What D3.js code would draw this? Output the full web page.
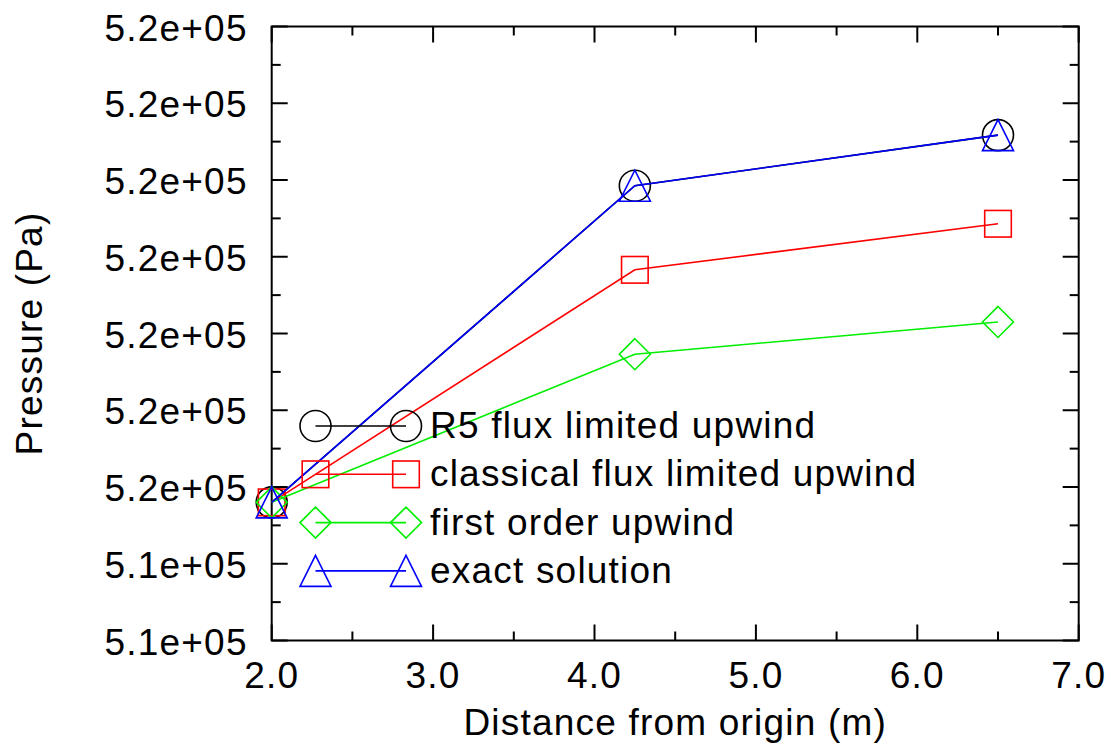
<!DOCTYPE html>
<html>
<head>
<meta charset="utf-8">
<script src="https://cdn.jsdelivr.net/npm/d3@7"></script>
<style>
  body { margin: 0; background: #fff; }
  text { font-family: "Liberation Sans", Arial, sans-serif; font-size: 37px; letter-spacing: 1.2px; fill: #000; }
</style>
</head>
<body>
<div id="chart"></div>
<script>
/* DATA */
const distance = [2.0, 4.25, 6.5];
const r5Upwind = [515006, 515088.5, 515101.7];
const classicalUpwind = [515006, 515066.6, 515078.6];
const firstOrderUpwind = [515006, 515044.6, 515053.0];
const exactSolution = [515006, 515088.5, 515101.7];
const seriesNames = ["R5 flux limited upwind", "classical flux limited upwind", "first order upwind", "exact solution"];
const xTicks = [2, 3, 4, 5, 6, 7];
const yTicks = [514970, 514990, 515010, 515030, 515050, 515070, 515090, 515110, 515130];

/* LAYOUT */
const W = 1111, H = 745;
const plotLeft = 271.7, plotRight = 1078.7, plotTop = 26.5, plotBottom = 640.5;

const svg = d3.select("#chart").append("svg")
  .attr("width", W)
  .attr("height", H);

const x = d3.scaleLinear().domain([2, 7]).range([plotLeft, plotRight]);
const y = d3.scaleLinear().domain([514970, 515130]).range([plotBottom, plotTop]);

// labels like 5.2e+05
function fmtExp(v) {
  return v.toExponential(1).replace(/e([+-])(\d)$/, "e$10$2");
}

// frame
svg.append("rect")
  .attr("x", plotLeft).attr("y", plotTop)
  .attr("width", plotRight - plotLeft).attr("height", plotBottom - plotTop)
  .attr("fill", "none").attr("stroke", "#000").attr("stroke-width", 2);

// ticks (inward, on all four sides)
const ticks = svg.append("g").attr("stroke", "#000").attr("stroke-width", 2);
const xMinor = d3.range(2.5, 7, 1);
const yMinor = d3.range(514980, 515130, 20);

xTicks.forEach((t) => {
  ticks.append("line").attr("x1", x(t)).attr("x2", x(t)).attr("y1", plotBottom).attr("y2", plotBottom - 16);
  ticks.append("line").attr("x1", x(t)).attr("x2", x(t)).attr("y1", plotTop).attr("y2", plotTop + 16);
});
xMinor.forEach((t) => {
  ticks.append("line").attr("x1", x(t)).attr("x2", x(t)).attr("y1", plotBottom).attr("y2", plotBottom - 9);
  ticks.append("line").attr("x1", x(t)).attr("x2", x(t)).attr("y1", plotTop).attr("y2", plotTop + 9);
});
yTicks.forEach((t) => {
  ticks.append("line").attr("y1", y(t)).attr("y2", y(t)).attr("x1", plotLeft).attr("x2", plotLeft + 16);
  ticks.append("line").attr("y1", y(t)).attr("y2", y(t)).attr("x1", plotRight).attr("x2", plotRight - 16);
});
yMinor.forEach((t) => {
  ticks.append("line").attr("y1", y(t)).attr("y2", y(t)).attr("x1", plotLeft).attr("x2", plotLeft + 9);
  ticks.append("line").attr("y1", y(t)).attr("y2", y(t)).attr("x1", plotRight).attr("x2", plotRight - 9);
});

// tick labels
svg.append("g").selectAll("text")
  .data(xTicks)
  .enter()
  .append("text")
  .attr("x", (d) => x(d))
  .attr("y", plotBottom + 47)
  .attr("text-anchor", "middle")
  .text((d) => d.toFixed(1));

svg.append("g").selectAll("text")
  .data(yTicks)
  .enter()
  .append("text")
  .attr("x", plotLeft - 24)
  .attr("y", (d) => y(d) + 14)
  .attr("text-anchor", "end")
  .text((d) => fmtExp(d));

// axis titles
svg.append("text")
  .attr("x", (plotLeft + plotRight) / 2)
  .attr("y", 735)
  .attr("text-anchor", "middle")
  .text("Distance from origin (m)");

svg.append("text")
  .attr("transform", `translate(42, ${(plotTop + plotBottom) / 2}) rotate(-90)`)
  .attr("text-anchor", "middle")
  .text("Pressure (Pa)");

/* MARKERS */
function drawMarker(g, shape, cx, cy, color) {
  if (shape === "circle") {
    g.append("circle").attr("cx", cx).attr("cy", cy).attr("r", 15.5)
      .attr("fill", "none").attr("stroke", color).attr("stroke-width", 1.6);
  } else if (shape === "square") {
    g.append("rect").attr("x", cx - 13.3).attr("y", cy - 13.3).attr("width", 26.6).attr("height", 26.6)
      .attr("fill", "none").attr("stroke", color).attr("stroke-width", 1.6);
  } else if (shape === "diamond") {
    const s = 15.5;
    g.append("path").attr("d", `M${cx},${cy - s}L${cx + s},${cy}L${cx},${cy + s}L${cx - s},${cy}Z`)
      .attr("fill", "none").attr("stroke", color).attr("stroke-width", 1.6);
  } else {
    const s = 15.5;
    g.append("path").attr("d", `M${cx},${cy - s}L${cx + s},${cy + s}L${cx - s},${cy + s}Z`)
      .attr("fill", "none").attr("stroke", color).attr("stroke-width", 1.6);
  }
}

const series = [
  { name: seriesNames[0], values: r5Upwind, color: "#000000", shape: "circle" },
  { name: seriesNames[1], values: classicalUpwind, color: "#ff0000", shape: "square" },
  { name: seriesNames[2], values: firstOrderUpwind, color: "#00ee00", shape: "diamond" },
  { name: seriesNames[3], values: exactSolution, color: "#0000ff", shape: "triangle" },
];

const line = d3.line()
  .x((d) => x(d[0]))
  .y((d) => y(d[1]));

series.forEach((s) => {
  const g = svg.append("g");
  const pts = distance.map((d, i) => [d, s.values[i]]);
  g.append("path")
    .attr("d", line(pts))
    .attr("fill", "none")
    .attr("stroke", s.color)
    .attr("stroke-width", 1.6);
  pts.forEach((p) => drawMarker(g, s.shape, x(p[0]), y(p[1]), s.color));
});

/* LEGEND */
const legend = svg.append("g");
const legX1 = 315.5, legX2 = 406, legY0 = 426, legStep = 48.3;
series.forEach((s, i) => {
  const ly = legY0 + i * legStep;
  legend.append("line")
    .attr("x1", legX1).attr("x2", legX2).attr("y1", ly).attr("y2", ly)
    .attr("stroke", s.color).attr("stroke-width", 1.6);
  drawMarker(legend, s.shape, legX1, ly, s.color);
  drawMarker(legend, s.shape, legX2, ly, s.color);
  legend.append("text")
    .attr("x", 430)
    .attr("y", ly + 12)
    .text(s.name);
});
</script>
</body>
</html>
